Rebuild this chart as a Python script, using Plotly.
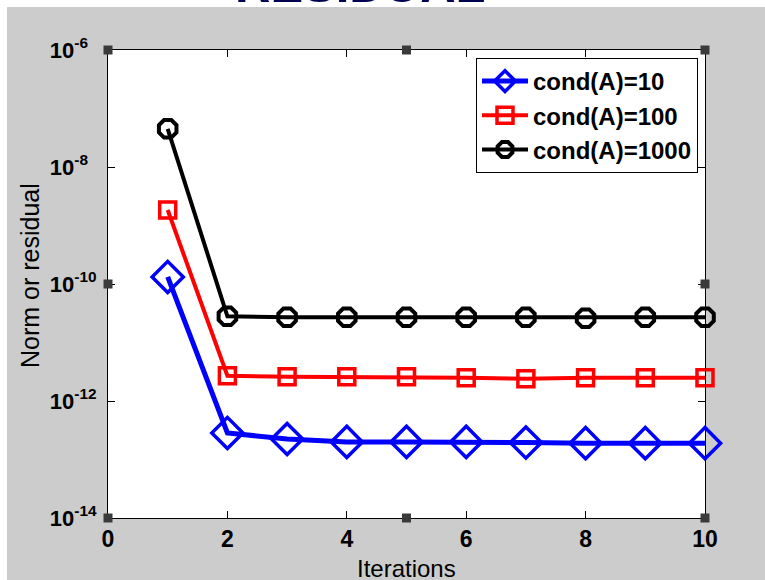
import plotly.graph_objects as go

# Iteration numbers and residual norms for three condition numbers
iterations = [1, 2, 3, 4, 5, 6, 7, 8, 9, 10]
res_cond10 = [1.32e-10, 2.84e-13, 2.24e-13, 2.0e-13, 2.0e-13, 2.0e-13, 1.95e-13, 1.9e-13, 1.9e-13, 1.9e-13]
res_cond100 = [1.84e-9, 2.7e-12, 2.6e-12, 2.6e-12, 2.6e-12, 2.5e-12, 2.4e-12, 2.5e-12, 2.5e-12, 2.5e-12]
res_cond1000 = [4.5e-8, 2.8e-11, 2.7e-11, 2.7e-11, 2.7e-11, 2.7e-11, 2.7e-11, 2.6e-11, 2.7e-11, 2.7e-11]

series_names = ["cond(A)=10", "cond(A)=100", "cond(A)=1000"]
x_ticks = [0, 2, 4, 6, 8, 10]
y_ticks = [1e-14, 1e-12, 1e-10, 1e-8, 1e-6]
NB = "\u00a0"
y_ticktext = ["10<sup>-14</sup>", "10<sup>-12</sup>", "10<sup>-10</sup>",
              "10<sup>-8" + NB * 2 + "</sup>", "10<sup>-6" + NB * 2 + "</sup>"]

FONT = "Liberation Sans, Arial, Helvetica, sans-serif"

W, H = 765, 580
L, R, T, B = 108, 60, 50, 62
PW, PH = W - L - R, H - T - B


def px_x(p):
    return (p - L) / PW


def px_y(p):
    return (H - B - p) / PH


fig = go.Figure()
fig.add_trace(go.Scatter(
    x=iterations, y=res_cond10, name=series_names[0], mode="lines+markers",
    line=dict(color="#0000ff", width=5), cliponaxis=False,
    marker=dict(symbol="diamond-open", size=24, color="#0000ff", line=dict(width=3.5, color="#0000ff")),
))
fig.add_trace(go.Scatter(
    x=iterations, y=res_cond100, name=series_names[1], mode="lines+markers",
    line=dict(color="#ff0000", width=4), cliponaxis=False,
    marker=dict(symbol="square-open", size=16, color="#ff0000", line=dict(width=3.5, color="#ff0000")),
))
fig.add_trace(go.Scatter(
    x=iterations, y=res_cond1000, name=series_names[2], mode="lines+markers",
    line=dict(color="#000000", width=4), cliponaxis=False,
    marker=dict(symbol="octagon-open", size=19, color="#000000", line=dict(width=4, color="#000000")),
))

shapes = [
    # white page strip along the top and left edge of the gray figure window
    dict(type="rect", xref="paper", yref="paper", x0=-0.3, x1=1.3, y0=px_y(7), y1=1.3,
         fillcolor="white", line=dict(width=0), layer="below"),
    dict(type="rect", xref="paper", yref="paper", x0=-0.3, x1=px_x(7), y0=-0.3, y1=1.3,
         fillcolor="white", line=dict(width=0), layer="below"),
]
# selection handles on the axes box
for hx in (0, 0.5, 1):
    for hy in (0, 0.5, 1):
        if hx == 0.5 and hy == 0.5:
            continue
        shapes.append(dict(type="rect", xref="paper", yref="paper",
                           xsizemode="pixel", ysizemode="pixel", xanchor=hx, yanchor=hy,
                           x0=-4.5, x1=4.5, y0=-4.5, y1=4.5,
                           fillcolor="#3a3a3a", line=dict(width=0), layer="above"))

annotations = [
    dict(text="RESIDUAL", xref="paper", yref="paper", x=px_x(358), y=px_y(12),
         xanchor="center", yanchor="bottom", showarrow=False,
         font=dict(family=FONT, size=49, weight="bold", color="#2020ff",
                   shadow="2px 2px 0px #000050")),
    dict(text="Iterations", xref="paper", yref="paper", x=0.5, y=px_y(568),
         xanchor="center", yanchor="middle", showarrow=False,
         font=dict(family=FONT, size=24, color="black")),
    dict(text="Norm or residual", xref="paper", yref="paper", x=px_x(30), y=px_y(276),
         xanchor="center", yanchor="middle", showarrow=False, textangle=-90,
         font=dict(family=FONT, size=25, color="black")),
]

fig.update_layout(
    width=W, height=H,
    margin=dict(l=L, r=R, t=T, b=B, pad=0, autoexpand=False),
    paper_bgcolor="#cccccc",
    plot_bgcolor="white",
    showlegend=True,
    font=dict(family=FONT, color="black"),
    shapes=shapes,
    annotations=annotations,
    legend=dict(
        x=px_x(698), y=px_y(58), xanchor="right", yanchor="top",
        bgcolor="white", bordercolor="black", borderwidth=1,
        font=dict(family=FONT, size=24, weight="bold", color="black"),
        itemwidth=46, tracegroupgap=0,
    ),
)

fig.update_xaxes(
    range=[0, 10], tickvals=x_ticks, ticktext=[str(v) for v in x_ticks],
    showline=True, linecolor="black", linewidth=1, mirror="ticks",
    ticks="inside", ticklen=7, tickcolor="black", tickwidth=1,
    showgrid=False, zeroline=False, automargin=False,
    tickfont=dict(family=FONT, size=23, weight="bold"),
    ticklabelstandoff=0,
)
fig.update_yaxes(
    type="log", range=[-14, -6], tickvals=y_ticks, ticktext=y_ticktext,
    showline=True, linecolor="black", linewidth=1, mirror="ticks",
    ticks="inside", ticklen=7, tickcolor="black", tickwidth=1,
    showgrid=False, zeroline=False, automargin=False,
    tickfont=dict(family=FONT, size=22, weight="bold"),
    ticklabelstandoff=6,
)

fig.write_html("out.html")
